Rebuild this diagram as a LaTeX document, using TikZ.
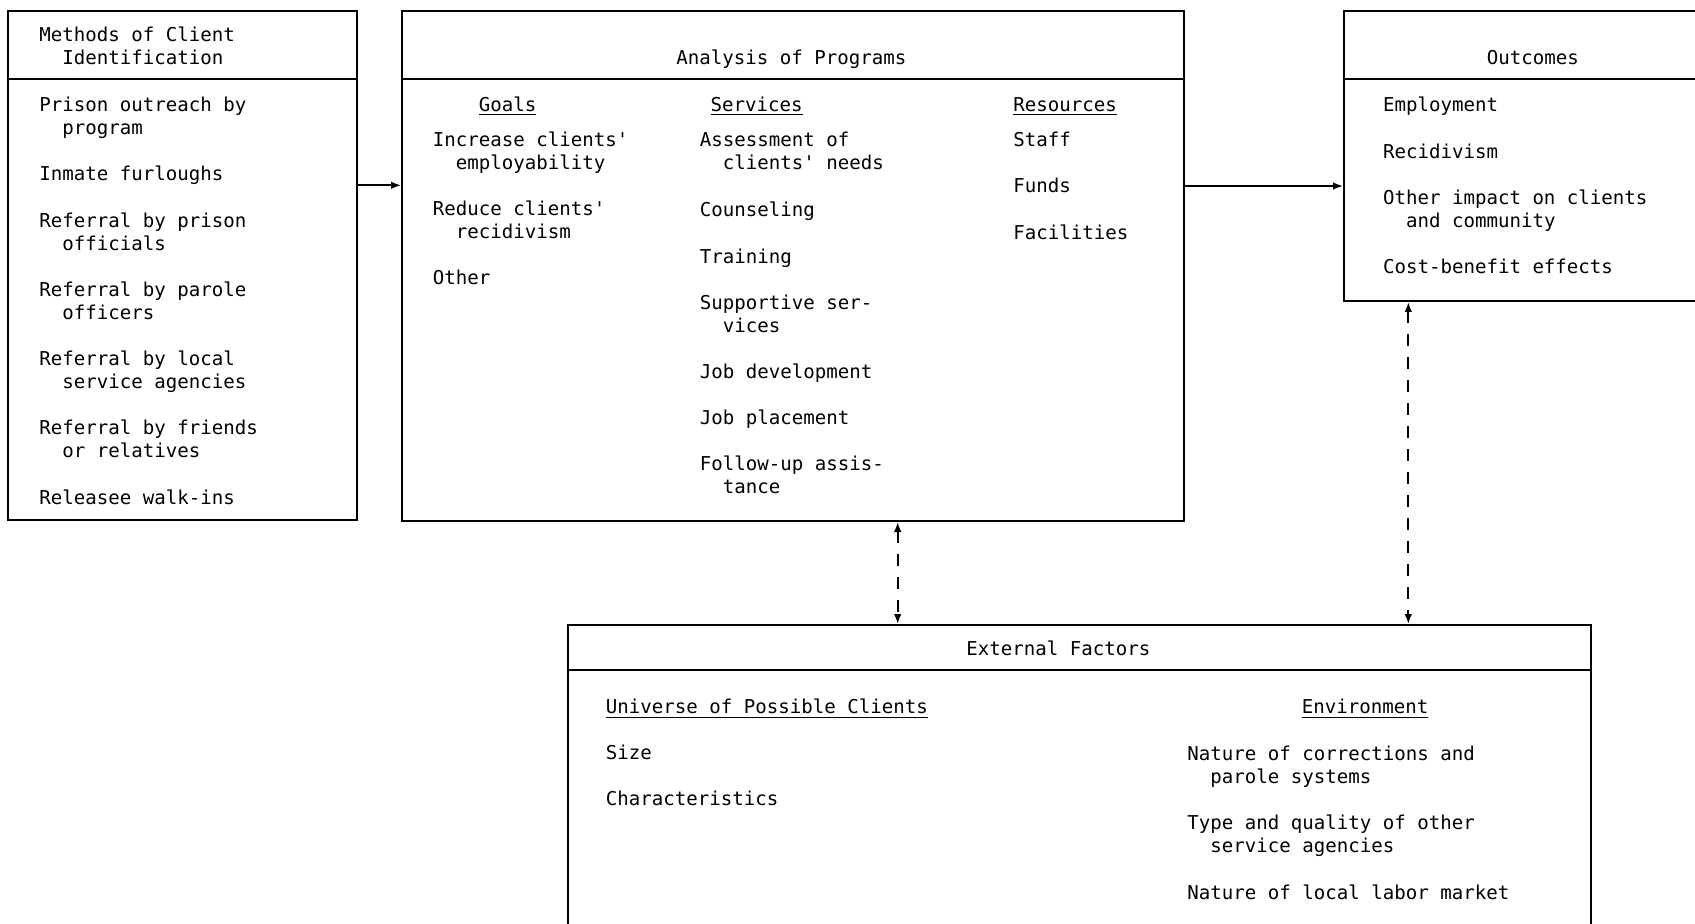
\documentclass[tikz,border=0pt]{standalone}
\usepackage{fontspec}
\usetikzlibrary{arrows.meta,fit}
\newfontfamily\tw{DejaVu Sans Mono}
\newcommand{\ind}{\hspace*{11.5pt}}
\tikzset{
  box/.style={draw, line width=1pt, inner sep=0pt},
  sep/.style={line width=1pt},
  txt/.style={anchor=north west, inner sep=0pt, align=left, yshift=-1.5pt, font=\tw\fontsize{9.55}{11.5}\selectfont},
  hdr/.style={anchor=center, inner sep=0pt, align=center, yshift=-1.5pt, font=\tw\fontsize{9.55}{11.5}\selectfont},
  arr/.style={line width=0.8pt, -{Latex[length=5pt,width=3.8pt]}},
  darr/.style={line width=0.9pt, {Latex[length=5pt,width=3.8pt]}-{Latex[length=5pt,width=3.8pt]}, dash pattern=on 6pt off 5.5pt},
}
\begin{document}
\begin{tikzpicture}[x=0.5pt,y=-0.5pt]
\clip (0,0) rectangle (1695,924);
\fill[white] (0,0) rectangle (1695,924);
% box corners
\coordinate (l1) at (7.6,10.8);   \coordinate (l2) at (357,520);
\coordinate (a1) at (402,10.8);   \coordinate (a2) at (1184,521);
\coordinate (o1) at (1344,10.8);  \coordinate (o2) at (1722,301);
\coordinate (e1) at (567.5,625);  \coordinate (e2) at (1591,960);
\node[box, fit=(l1)(l2)] (left) {};
\node[box, fit=(a1)(a2)] (ana) {};
\node[box, fit=(o1)(o2)] (out) {};
\node[box, fit=(e1)(e2)] (ext) {};
% header separators
\coordinate (s1) at (0,79);
\coordinate (s2) at (0,670);
\draw[sep] (left.west |- s1) -- (left.east |- s1);
\draw[sep] (ana.west |- s1) -- (ana.east |- s1);
\draw[sep] (out.west |- s1) -- (out.east |- s1);
\draw[sep] (ext.west |- s2) -- (ext.east |- s2);
% left box
\node[txt] (lh) at (38.9,22) {\strut Methods of Client\\\strut\ind Identification};
\node[txt] (li1) at (38.9,92.3) {\strut Prison outreach by\\\strut\ind program};
\node[txt] (li2) at (38.9,161.5) {\strut Inmate furloughs};
\node[txt] (li3) at (38.9,207.9) {\strut Referral by prison\\\strut\ind officials};
\node[txt] (li4) at (38.9,277.1) {\strut Referral by parole\\\strut\ind officers};
\node[txt] (li5) at (38.9,346.3) {\strut Referral by local\\\strut\ind service agencies};
\node[txt] (li6) at (38.9,415.5) {\strut Referral by friends\\\strut\ind or relatives};
\node[txt] (li7) at (38.9,484.7) {\strut Releasee walk-ins};
% analysis box
\node[hdr] (ah) at (791.3,57.3) {\strut Analysis of Programs};
\node[txt] (gh) at (478.5,92.3) {\strut\underline{Goals}};
\node[txt] (sh) at (710.2,92.3) {\strut\underline{Services}};
\node[txt] (rh) at (1013,92.3) {\strut\underline{Resources}};
\node[txt] (g1) at (432.4,126.9) {\strut Increase clients'\\\strut\ind employability};
\node[txt] (g2) at (432.4,196.1) {\strut Reduce clients'\\\strut\ind recidivism};
\node[txt] (g3) at (432.4,265.2) {\strut Other};
\node[txt] (v1) at (699.4,126.9) {\strut Assessment of\\\strut\ind clients' needs};
\node[txt] (v2) at (699.4,197.1) {\strut Counseling};
\node[txt] (v3) at (699.4,243.6) {\strut Training};
\node[txt] (v4) at (699.4,290.1) {\strut Supportive ser-\\\strut\ind vices};
\node[txt] (v5) at (699.4,359.3) {\strut Job development};
\node[txt] (v6) at (699.4,404.7) {\strut Job placement};
\node[txt] (v7) at (699.4,451.2) {\strut Follow-up assis-\\\strut\ind tance};
\node[txt] (r1) at (1013,126.9) {\strut Staff};
\node[txt] (r2) at (1013,173.4) {\strut Funds};
\node[txt] (r3) at (1013,219.8) {\strut Facilities};
% outcomes box
\node[hdr] (oh) at (1532.9,57.3) {\strut Outcomes};
\node[txt] (o1t) at (1382.6,92.3) {\strut Employment};
\node[txt] (o2t) at (1382.6,138.8) {\strut Recidivism};
\node[txt] (o3t) at (1382.6,185.2) {\strut Other impact on clients\\\strut\ind and community};
\node[txt] (o4t) at (1382.6,254.4) {\strut Cost-benefit effects};
% external box
\node[hdr] (eh) at (1058.3,647.5) {\strut External Factors};
\node[txt] (uh) at (605.4,694.4) {\strut\underline{Universe of Possible Clients}};
\node[txt] (nh) at (1301.5,694.4) {\strut\underline{Environment}};
\node[txt] (u1) at (605.4,739.8) {\strut Size};
\node[txt] (u2) at (605.4,786.3) {\strut Characteristics};
\node[txt] (n1) at (1186.9,740.9) {\strut Nature of corrections and\\\strut\ind parole systems};
\node[txt] (n2) at (1186.9,810.1) {\strut Type and quality of other\\\strut\ind service agencies};
\node[txt] (n3) at (1186.9,880.3) {\strut Nature of local labor market};
% connectors
\coordinate (y1) at (0,185.3);
\coordinate (y2) at (0,186);
\coordinate (x1) at (897.7,0);
\coordinate (x2) at (1408.3,0);
\draw[arr] (left.east |- y1) -- (ana.west |- y1);
\draw[arr] (ana.east |- y2) -- (out.west |- y2);
\draw[darr] (ana.south -| x1) -- (ext.north -| x1);
\draw[darr] (out.south -| x2) -- (ext.north -| x2);
\end{tikzpicture}
\end{document}
